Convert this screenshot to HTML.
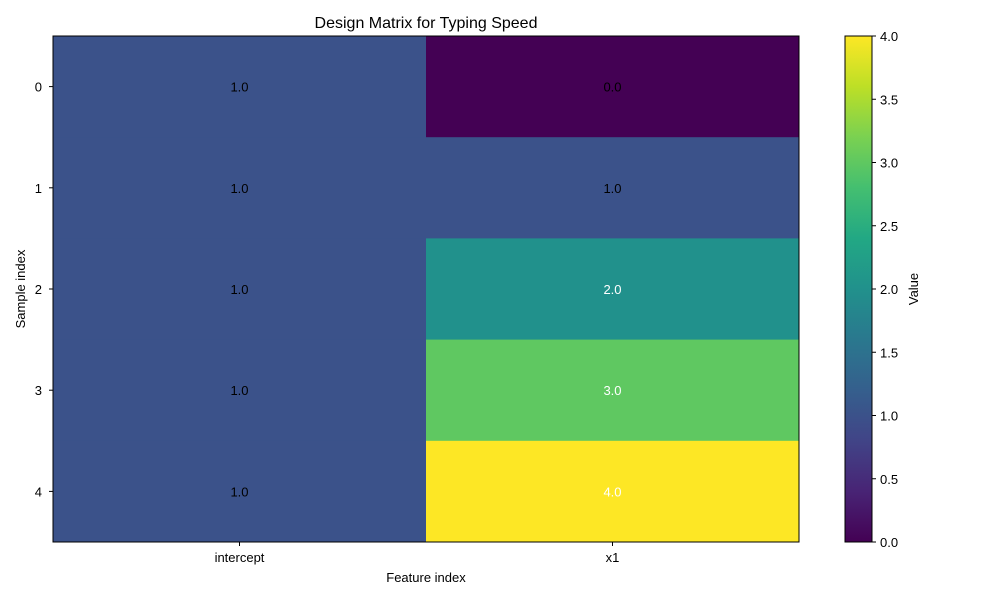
<!DOCTYPE html>
<html><head><meta charset="utf-8"><style>
body{margin:0;background:#fff;}
svg{font-family:"Liberation Sans","DejaVu Sans",sans-serif;}
</style></head><body>
<svg id="c" width="1000" height="600" xmlns="http://www.w3.org/2000/svg">
<defs><linearGradient id="vir" x1="0" y1="1" x2="0" y2="0">
<stop offset="0" stop-color="#440154"/><stop offset="0.1" stop-color="#482475"/><stop offset="0.2" stop-color="#414487"/><stop offset="0.3" stop-color="#355f8d"/><stop offset="0.4" stop-color="#2a788e"/><stop offset="0.5" stop-color="#21918c"/><stop offset="0.6" stop-color="#22a884"/><stop offset="0.7" stop-color="#44bf70"/><stop offset="0.8" stop-color="#7ad151"/><stop offset="0.9" stop-color="#bddf26"/><stop offset="1" stop-color="#fde725"/>
</linearGradient></defs>
<text x="426" y="28" font-size="16" text-anchor="middle">Design Matrix for Typing Speed</text>
<g id="cells"></g>
<rect x="53" y="36" width="746" height="506" fill="none" stroke="#000" stroke-width="1"/>
<g id="axes" font-size="13"></g>
<text x="426" y="582" font-size="13" text-anchor="middle">Feature index</text>
<text transform="translate(25,289) rotate(-90)" font-size="13" text-anchor="middle">Sample index</text>
<rect x="845" y="36" width="27" height="506" fill="url(#vir)" stroke="#000" stroke-width="1"/>
<g id="cb" font-size="13"></g>
<text transform="translate(918,289) rotate(-90)" font-size="13" text-anchor="middle">Value</text>
</svg>
<script>
const features = ["intercept", "x1"];
const samples = ["0", "1", "2", "3", "4"];
const col0 = [1, 1, 1, 1, 1];
const col1 = [0, 1, 2, 3, 4];
const cbTicks = [0, 0.5, 1, 1.5, 2, 2.5, 3, 3.5, 4];
const NS = "http://www.w3.org/2000/svg";
const X0 = 53, X1 = 799, Y0 = 36, Y1 = 542, vmin = 0, vmax = 4;
const cw = (X1 - X0) / features.length, ch = (Y1 - Y0) / samples.length;
function xOf(j) { return X0 + j * cw; }
function yOf(i) { return Y0 + i * ch; }
function cbY(v) { return Y1 - (v - vmin) / (vmax - vmin) * (Y1 - Y0); }
const stops = ["#440154","#482475","#414487","#355f8d","#2a788e","#21918c","#22a884","#44bf70","#7ad151","#bddf26","#fde725"];
function hex(h){return [1,3,5].map(k=>parseInt(h.substr(k,2),16));}
function color(v) {
  let t = Math.max(0, Math.min(1, (v - vmin) / (vmax - vmin))) * 10;
  let k = Math.min(9, Math.floor(t)), f = t - k;
  const a = hex(stops[k]), b = hex(stops[k + 1]);
  return "rgb(" + a.map((c, n) => Math.round(c + (b[n] - c) * f)).join(",") + ")";
}
function mk(tag, attrs, parent) { const e = document.createElementNS(NS, tag); for (const k in attrs) e.setAttribute(k, attrs[k]); parent.appendChild(e); return e; }
const cells = document.getElementById("cells");
const cols = [col0, col1];
cols.forEach((col, j) => col.forEach((v, i) => {
  const r = mk("rect", {x: xOf(j), y: yOf(i), width: cw + 0.5, height: ch + 0.5, fill: color(v)}, cells);
  
  
  const t = mk("text", {x: xOf(j) + cw / 2, y: yOf(i) + ch / 2 + 5, "text-anchor": "middle", "font-size": 13, fill: v >= 2 ? "#fff" : "#000"}, cells);
  t.textContent = v.toFixed(1);
  
  
}));
const axes = document.getElementById("axes");
features.forEach((f, j) => {
  const x = xOf(j) + cw / 2;
  const l = mk("line", {x1: x, x2: x, y1: Y1, y2: Y1 + 4, stroke: "#000"}, axes);
  
  
  const t = mk("text", {x: x, y: Y1 + 20, "text-anchor": "middle"}, axes);
  t.textContent = f;
  
  
});
samples.forEach((s, i) => {
  const y = yOf(i) + ch / 2;
  const l = mk("line", {x1: X0 - 4, x2: X0, y1: y, y2: y, stroke: "#000"}, axes);
  
  
  const t = mk("text", {x: X0 - 11, y: y + 5, "text-anchor": "end"}, axes);
  t.textContent = s;
  
  
});
const cb = document.getElementById("cb");
cbTicks.forEach(v => {
  const y = cbY(v);
  const l = mk("line", {x1: 872, x2: 876, y1: y, y2: y, stroke: "#000"}, cb);
  
  
  const t = mk("text", {x: 880, y: y + 5}, cb);
  t.textContent = v.toFixed(1);
  
  
});
</script>
</body></html>
